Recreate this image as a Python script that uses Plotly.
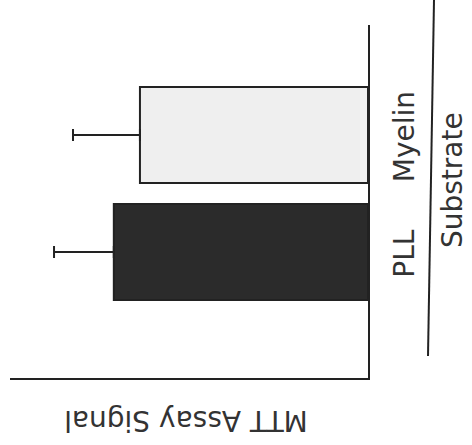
import plotly.graph_objects as go

# MTT assay signal by culture substrate (arbitrary units)
substrates = ["PLL", "Myelin"]
mtt_signal = [71, 63.7]
mtt_error = [16.7, 18.7]
bar_colors = ["#2b2b2b", "#efefef"]

value_axis_title = "MTT Assay Signal"
category_axis_title = "Substrate"

INK = "#222222"
TEXT = "#333333"
FONT = "DejaVu Sans"
SIZE = 28

fig = go.Figure()
fig.add_trace(
    go.Bar(
        y=substrates,
        x=mtt_signal,
        orientation="h",
        width=0.82,
        marker=dict(color=bar_colors, line=dict(color=INK, width=2)),
        error_x=dict(
            type="data",
            symmetric=False,
            array=mtt_error,
            arrayminus=[0] * len(mtt_error),
            color=INK,
            thickness=2,
            width=6,
        ),
        showlegend=False,
    )
)

# rotated labels sit a touch below each bar's centre
label_offset = -0.05

fig.update_layout(
    width=472,
    height=445,
    margin=dict(l=10, r=104, t=25, b=67),
    paper_bgcolor="white",
    plot_bgcolor="white",
    font=dict(family=FONT, size=SIZE, color=TEXT),
    xaxis=dict(
        range=[100, 0],
        showline=True,
        linecolor=INK,
        linewidth=2,
        showgrid=False,
        zeroline=False,
        ticks="",
        showticklabels=False,
    ),
    yaxis=dict(
        side="right",
        range=[-1.077, 1.94],
        showline=True,
        linecolor=INK,
        linewidth=2,
        showgrid=False,
        zeroline=False,
        ticks="",
        tickmode="array",
        tickvals=[i + label_offset for i in range(len(substrates))],
        ticktext=substrates,
        tickangle=-90,
        ticklabelstandoff=10,
        tickfont=dict(family=FONT, size=SIZE, color=TEXT),
    ),
    annotations=[
        dict(
            text=value_axis_title,
            xref="paper",
            yref="paper",
            x=0.49,
            y=-0.122,
            xanchor="center",
            yanchor="middle",
            textangle=180,
            showarrow=False,
            font=dict(family=FONT, size=SIZE, color=TEXT),
        ),
        dict(
            text=category_axis_title,
            xref="paper",
            yref="paper",
            x=(452 - 10) / 358,
            y=(378 - 180) / 353,
            xanchor="center",
            yanchor="middle",
            textangle=-90,
            showarrow=False,
            font=dict(family=FONT, size=SIZE, color=TEXT),
        ),
    ],
    shapes=[
        # bracket line separating the category labels from the axis title
        dict(
            type="line",
            xref="paper",
            yref="paper",
            x0=(434 - 10) / 358,
            x1=(428 - 10) / 358,
            y0=(378 - 0) / 353,
            y1=(378 - 356) / 353,
            line=dict(color=INK, width=2),
        )
    ],
)

fig.write_html("out.html")
